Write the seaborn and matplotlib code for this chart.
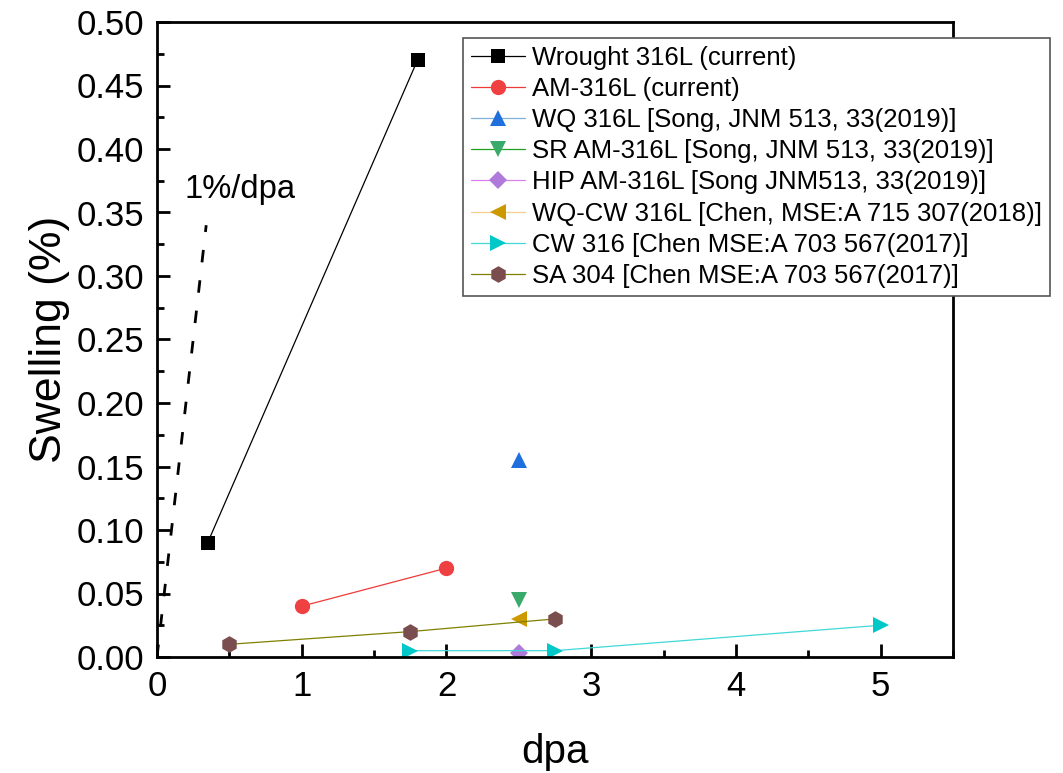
import matplotlib
matplotlib.use("Agg")
from matplotlib import pyplot as plt
from matplotlib.ticker import MultipleLocator, FormatStrFormatter
import seaborn as sns
import pandas as pd

# series (dpa, swelling %)
wrought_x = [0.35, 1.8]
wrought_y = [0.09, 0.47]
am_x = [1.0, 2.0]
am_y = [0.04, 0.07]
wq_x = [2.5]
wq_y = [0.155]
sr_x = [2.5]
sr_y = [0.045]
hip_x = [2.5]
hip_y = [0.003]
wqcw_x = [2.5]
wqcw_y = [0.03]
cw_x = [1.75, 2.75, 5.0]
cw_y = [0.005, 0.005, 0.025]
sa_x = [0.5, 1.75, 2.75]
sa_y = [0.01, 0.02, 0.03]

# 1%/dpa guide
guide_x = [0.0, 0.34]
guide_y = [0.0, 0.34]

labels = ['Wrought 316L (current)', 'AM-316L (current)',
          'WQ 316L [Song, JNM 513, 33(2019)]',
          'SR AM-316L [Song, JNM 513, 33(2019)]',
          'HIP AM-316L [Song JNM513, 33(2019)]',
          'WQ-CW 316L [Chen, MSE:A 715 307(2018)]',
          'CW 316 [Chen MSE:A 703 567(2017)]',
          'SA 304 [Chen MSE:A 703 567(2017)]']

series = [
    # x, y, marker, size, marker colour, line colour
    (wrought_x, wrought_y, 's', 10, '#000000', '#000000'),
    (am_x, am_y, 'o', 11, '#EF4141', '#F03A3A'),
    (wq_x, wq_y, '^', 12, '#1F6FDC', '#7FB0D8'),
    (sr_x, sr_y, 'v', 12, '#3AAA6A', '#1FA01F'),
    (hip_x, hip_y, 'D', 9, '#B07ADB', '#DA80F0'),
    (wqcw_x, wqcw_y, '<', 12, '#CC9900', '#F5CF8C'),
    (cw_x, cw_y, '>', 12, '#00C8C8', '#40D8D8'),
    (sa_x, sa_y, 'h', 12, '#7A4E4E', '#808000'),
]

sns.set_style('ticks', {'text.color': 'black', 'axes.labelcolor': 'black',
                        'xtick.color': 'black', 'ytick.color': 'black',
                        'axes.edgecolor': 'black'})
plt.rcParams['font.family'] = ['Liberation Sans', 'DejaVu Sans']

fig = plt.figure(figsize=(10.63, 7.73), dpi=100)
ax = fig.add_axes([157 / 1063, 1 - 657 / 773, (953 - 157) / 1063, (657 - 22) / 773])

sns.lineplot(x=guide_x, y=guide_y, ax=ax, color='black', lw=2,
             dashes=False, linestyle=(0, (4.5, 6.5)))

for (xs, ys, mk, ms, mc, lc), lab in zip(series, labels):
    df = pd.DataFrame({'dpa': xs, 'swelling': ys})
    sns.lineplot(data=df, x='dpa', y='swelling', ax=ax, sort=False,
                 color=lc, lw=0.9, marker=mk, markersize=ms,
                 markerfacecolor=mc, markeredgecolor=mc, markeredgewidth=0,
                 label=lab, legend=False)

ax.text(0.19, 0.368, '1%/dpa', fontsize=23.5, va='center', ha='left')

ax.set_xlim(0, 5.5)
ax.set_ylim(0, 0.5)
ax.xaxis.set_major_locator(MultipleLocator(1))
ax.xaxis.set_minor_locator(MultipleLocator(0.5))
ax.yaxis.set_major_locator(MultipleLocator(0.05))
ax.yaxis.set_minor_locator(MultipleLocator(0.025))
ax.yaxis.set_major_formatter(FormatStrFormatter('%.2f'))
ax.tick_params(which='both', direction='in', top=False, right=False,
               labelsize=25, pad=9)
ax.tick_params(which='major', length=9.5, width=2)
ax.tick_params(which='minor', length=5, width=2)
for sp in ax.spines.values():
    sp.set_linewidth(2)
    sp.set_visible(True)

ax.set_xlabel('dpa', fontsize=29, labelpad=22)
ax.set_ylabel('Swelling (%)', fontsize=32, labelpad=5)

leg = ax.legend(loc='upper left', bbox_to_anchor=(463 / 1063, 1 - 38 / 773),
                bbox_transform=fig.transFigure, borderaxespad=0,
                fontsize=18.5, frameon=True, fancybox=False, framealpha=1,
                edgecolor='#555555', handlelength=2.1, handletextpad=0.3,
                labelspacing=0.28, borderpad=0.3)
leg.get_frame().set_linewidth(1.2)

fig.savefig('out.png', dpi=100)
